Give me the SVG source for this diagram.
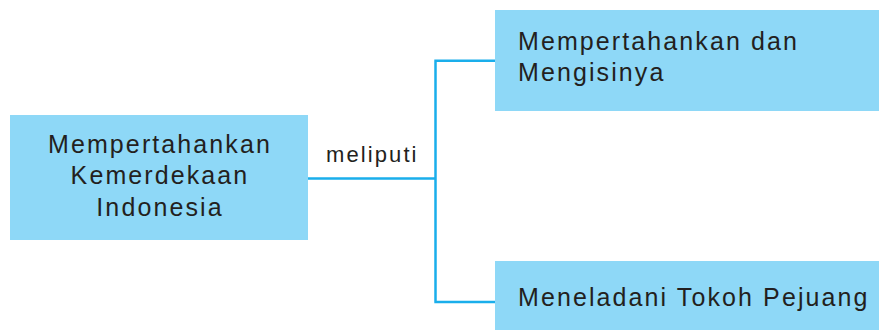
<svg xmlns="http://www.w3.org/2000/svg" width="879" height="330" viewBox="0 0 879 330">
  <style>
    .box { fill: #8ed8f7; }
    .t { font-family: "Liberation Sans", Arial, sans-serif; font-size: 25px; fill: #231f20; letter-spacing: 2.1px; }
    .lbl { font-family: "Liberation Sans", Arial, sans-serif; font-size: 22px; fill: #231f20; letter-spacing: 2.1px; }
    .c { fill: none; stroke: #1aaeeb; stroke-width: 2.5; }
  </style>
  <rect width="879" height="330" fill="#ffffff"/>
  <g id="connectors">
    <path class="c" d="M307 178.5 H435.5 M435.5 60.8 V302 M434.3 60.8 H496 M434.3 302 H496"/>
    <text class="lbl" x="326" y="161.7">meliputi</text>
  </g>
  <g id="node-main">
    <rect class="box" x="10" y="115" width="298" height="125"/>
    <text class="t" text-anchor="middle" x="160" y="152.5">Mempertahankan</text>
    <text class="t" text-anchor="middle" x="160" y="184">Kemerdekaan</text>
    <text class="t" text-anchor="middle" x="160" y="215.5">Indonesia</text>
  </g>
  <g id="node-top">
    <rect class="box" x="495" y="10" width="384" height="101"/>
    <text class="t" x="518" y="50">Mempertahankan dan</text>
    <text class="t" x="518" y="81">Mengisinya</text>
  </g>
  <g id="node-bottom">
    <rect class="box" x="495" y="261" width="384" height="69"/>
    <text class="t" x="518" y="306">Meneladani Tokoh Pejuang</text>
  </g>
</svg>
